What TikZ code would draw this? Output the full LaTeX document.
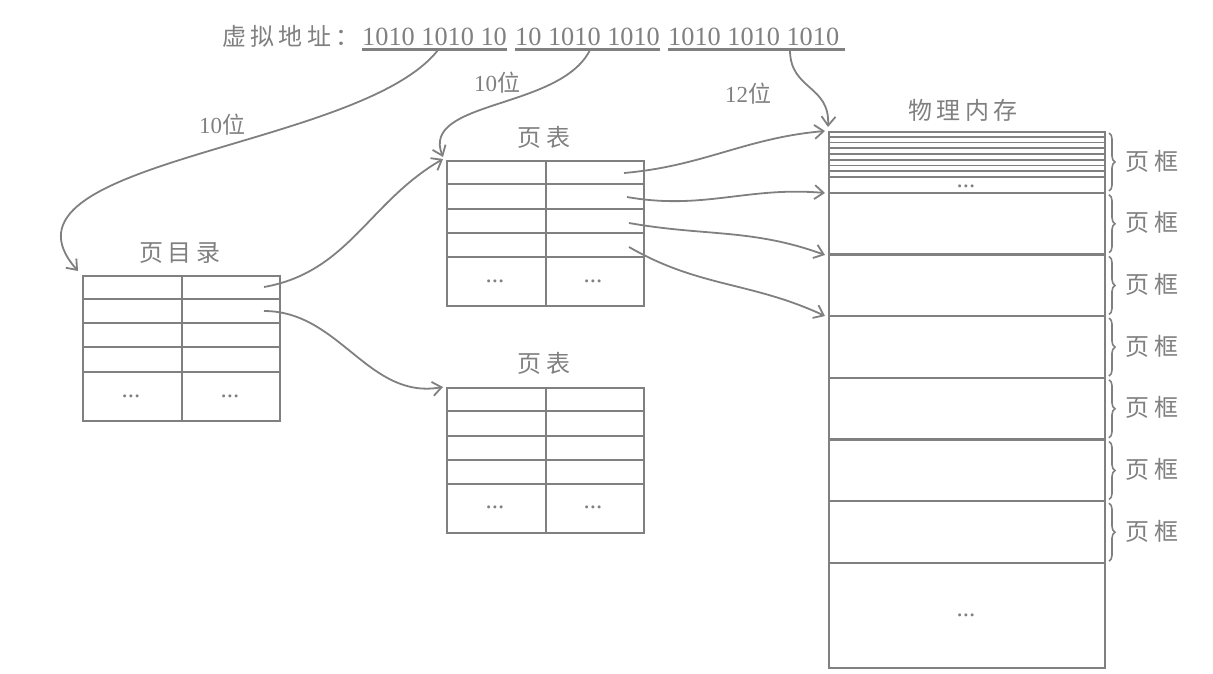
\documentclass[tikz,border=0pt]{standalone}
\usepackage{fontspec}
\setmainfont{Liberation Serif}
\newfontfamily\cjk{Noto Sans CJK SC}
\newfontfamily\cjkwide{Noto Sans CJK SC}[LetterSpace=18]
\usetikzlibrary{arrows.meta,decorations.pathreplacing}
\definecolor{inkgray}{RGB}{128,128,128}

\begin{document}
\begin{tikzpicture}[x=1pt,y=-1pt]

\tikzstyle{table}=[draw=inkgray, line width=2.2pt, anchor=north west,
    inner sep=0pt, minimum width=197pt, minimum height=145pt]
\tikzstyle{grid}=[draw=inkgray, line width=2.2pt]
\tikzstyle{fine}=[draw=inkgray, line width=1.6pt]
\tikzstyle{title}=[text=inkgray, font=\fontsize{24}{28}\selectfont\cjkwide]
\tikzstyle{bits}=[text=inkgray, inner sep=0pt, anchor=base west,
    font=\fontsize{26.3}{30}\selectfont]
\tikzstyle{width}=[text=inkgray, font=\fontsize{23}{26}\selectfont]
\tikzstyle{dots}=[text=inkgray, font=\fontsize{25}{28}\selectfont]
\tikzstyle{link}=[draw=inkgray, line width=1.8pt,
    -{Straight Barb[length=9pt,width=14pt]}]
\tikzstyle{bracket}=[draw=inkgray, line width=1.6pt, decorate,
    decoration={brace,amplitude=6pt}]

\useasboundingbox (0,0) rectangle (1213,673);

% virtual address
\node[bits, font=\fontsize{24}{28}\selectfont\cjkwide] (vaddr) at (222,45) {虚拟地址：};
\node[bits] (seg1) at (362,45) {1010 1010 10};
\node[bits] (seg2) at (515,45) {10 1010 1010};
\node[bits] (seg3) at (668,45) {1010 1010 1010};

\draw[grid] ([yshift=-4pt]seg1.south west) -- ([yshift=-4pt]seg1.south east);
\draw[grid] ([yshift=-4pt]seg2.south west) -- ([yshift=-4pt]seg2.south east);
\draw[grid] ([yshift=-4pt]seg3.south west) -- ([xshift=6pt,yshift=-4pt]seg3.south east);

\coordinate (cut1) at (438,50);
\coordinate (cut2) at (590,50);
\coordinate (cut3) at (790,50);

% page directory
\node[table] (dir) at (82,275) {};
\node[title] (dirTitle) at (180,253) {页目录};
\foreach \y in {24,48,72,97}
  \draw[grid] ([yshift=-\y pt]dir.north west) -- ([yshift=-\y pt]dir.north east);
\draw[grid] (dir.north) -- (dir.south);
\node[dots] (dirDotsA) at (131,396) {...};
\node[dots] (dirDotsB) at (230,396) {...};

% page table 1
\node[table] (pt1) at (446,160) {};
\node[title] (pt1Title) at (544,137) {页表};
\foreach \y in {24,49,73,97}
  \draw[grid] ([yshift=-\y pt]pt1.north west) -- ([yshift=-\y pt]pt1.north east);
\draw[grid] (pt1.north) -- (pt1.south);
\node[dots] (pt1DotsA) at (495,281) {...};
\node[dots] (pt1DotsB) at (593,281) {...};

% page table 2
\node[table] (pt2) at (446,387) {};
\node[title] (pt2Title) at (544,363) {页表};
\foreach \y in {24,49,73,97}
  \draw[grid] ([yshift=-\y pt]pt2.north west) -- ([yshift=-\y pt]pt2.north east);
\draw[grid] (pt2.north) -- (pt2.south);
\node[dots] (pt2DotsA) at (495,507) {...};
\node[dots] (pt2DotsB) at (593,507) {...};

% physical memory
\node[table, minimum width=276pt, minimum height=536pt] (mem) at (828,131) {};
\node[title] (memTitle) at (963,110) {物理内存};
\foreach \k in {1,...,8}
  \draw[fine] ([yshift=-\k*5.75pt]mem.north west) -- ([yshift=-\k*5.75pt]mem.north east);
\foreach \k in {1,...,7}
  \draw[grid] ([yshift=-\k*61.7pt]mem.north west) -- ([yshift=-\k*61.7pt]mem.north east);
\node[dots] (memDotsA) at (966,186) {...};
\node[dots] (memDotsB) at (966,615) {...};

% page frames
\foreach \k in {0,...,6} {
  \draw[bracket] ({1109},{133+\k*61.7}) -- ({1109},{191+\k*61.7});
  \node[title] (frame\k) at ({1152},{161+\k*61.7}) {页框};
}

\coordinate (frameA) at (825,131);
\coordinate (frameB) at (825,193);
\coordinate (frameC) at (825,255);
\coordinate (frameD) at (825,316);

% entries
\coordinate (dirA) at (264,287);
\coordinate (dirB) at (264,311);
\coordinate (pt1A) at (624,173);
\coordinate (pt1B) at (627,197);
\coordinate (pt1C) at (629,223);
\coordinate (pt1D) at (629,247);

% bit widths
\node[width] (w1) at (222,125) {10{\cjk 位}};
\node[width] (w2) at (497,83) {10{\cjk 位}};
\node[width] (w3) at (748,94) {12{\cjk 位}};

\draw[link] (cut1) .. controls (360,150) and (-20,160) .. ([xshift=-4pt,yshift=4pt]dir.north west);
\draw[link] (cut2) .. controls (560,110) and (420,100) .. ([xshift=-3pt,yshift=3pt]pt1.north west);
\draw[link] (cut3) .. controls (790,90) and (830,85) .. ([yshift=4pt]mem.north west);

\draw[link] (dirA) to[out=10,in=210] ([xshift=-3pt,yshift=1pt]pt1.north west);
\draw[link] (dirB) to[out=0,in=190] ([xshift=-3pt]pt2.north west);

\draw[link] (pt1A) to[out=5,in=185] (frameA);
\draw[link] (pt1B) to[out=-10,in=175] (frameB);
\draw[link] (pt1C) to[out=-10,in=160] (frameC);
\draw[link] (pt1D) to[out=-30,in=155] (frameD);

\end{tikzpicture}
\end{document}
